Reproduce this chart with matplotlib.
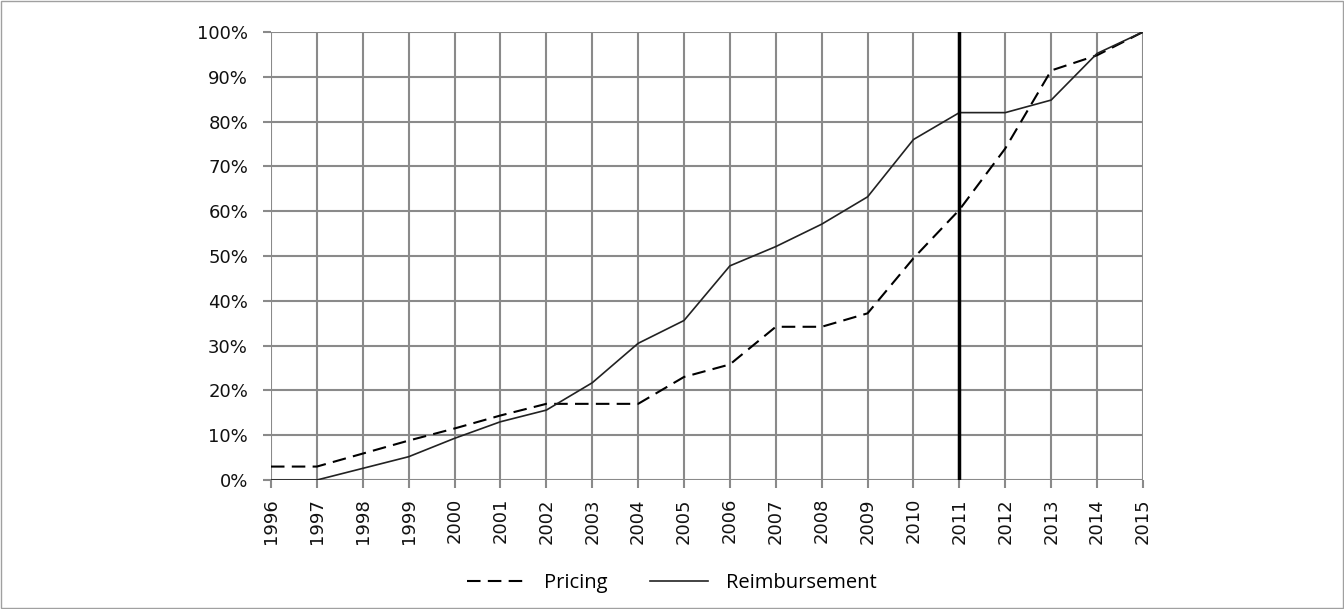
import matplotlib
matplotlib.use("Agg")
import matplotlib.pyplot as plt
from matplotlib.patches import Rectangle
from matplotlib.ticker import PercentFormatter

# data (share in %)
years = list(range(1996, 2016))
pricing = [3, 3, 5.9, 8.8, 11.5, 14.4, 17, 17, 17, 23, 25.8, 34.2, 34.2, 37.2,
           49.5, 60.3, 74, 91.4, 94.8, 100]
reimbursement = [0, 0, 2.6, 5.2, 9.3, 13, 15.6, 21.7, 30.5, 35.6, 47.8, 52.1,
                 57.1, 63.2, 76, 82, 82, 84.8, 95.2, 100]
marker_year = 2011

fig = plt.figure(figsize=(13.44, 6.09), dpi=100)
ax = fig.add_axes([0.2016, 0.2118, 0.6488, 0.7357])

# frame around the whole picture
fig.patches.append(Rectangle((0.001, 0.001), 0.998, 0.997, transform=fig.transFigure,
                             fill=False, edgecolor="#a0a0a0", linewidth=1))

ax.plot(years, pricing, color="black", linestyle=(0, (6.5, 3.5)), linewidth=1.5, label="Pricing")
ax.plot(years, reimbursement, color="#222222", linestyle="-", linewidth=1.2, label="Reimbursement")
ax.axvline(marker_year, color="black", linewidth=2.5)

ax.set_xlim(years[0], years[-1])
ax.set_ylim(0, 100)
ax.set_xticks(years)
ax.set_xticklabels([str(y) for y in years], rotation=90)
ax.set_yticks(range(0, 101, 10))
ax.yaxis.set_major_formatter(PercentFormatter(decimals=0))

ax.grid(True, color="#8a8a8a", linewidth=1.5)
ax.set_axisbelow(True)
for s in ax.spines.values():
    s.set_visible(False)
ax.tick_params(axis="both", color="#8a8a8a", width=1.5, length=6, labelsize=13,
               labelcolor="#111111")
ax.tick_params(axis="y", pad=10.5)
ax.tick_params(axis="x", pad=7)

fig.legend(*ax.get_legend_handles_labels(), loc="center", bbox_to_anchor=(0.5, 0.043),
           ncol=2, frameon=False, handlelength=2.9, handletextpad=0.9, columnspacing=2.1,
           prop={"family": "Open Sans", "size": 14.5})

fig.savefig("out.png", dpi=100)
